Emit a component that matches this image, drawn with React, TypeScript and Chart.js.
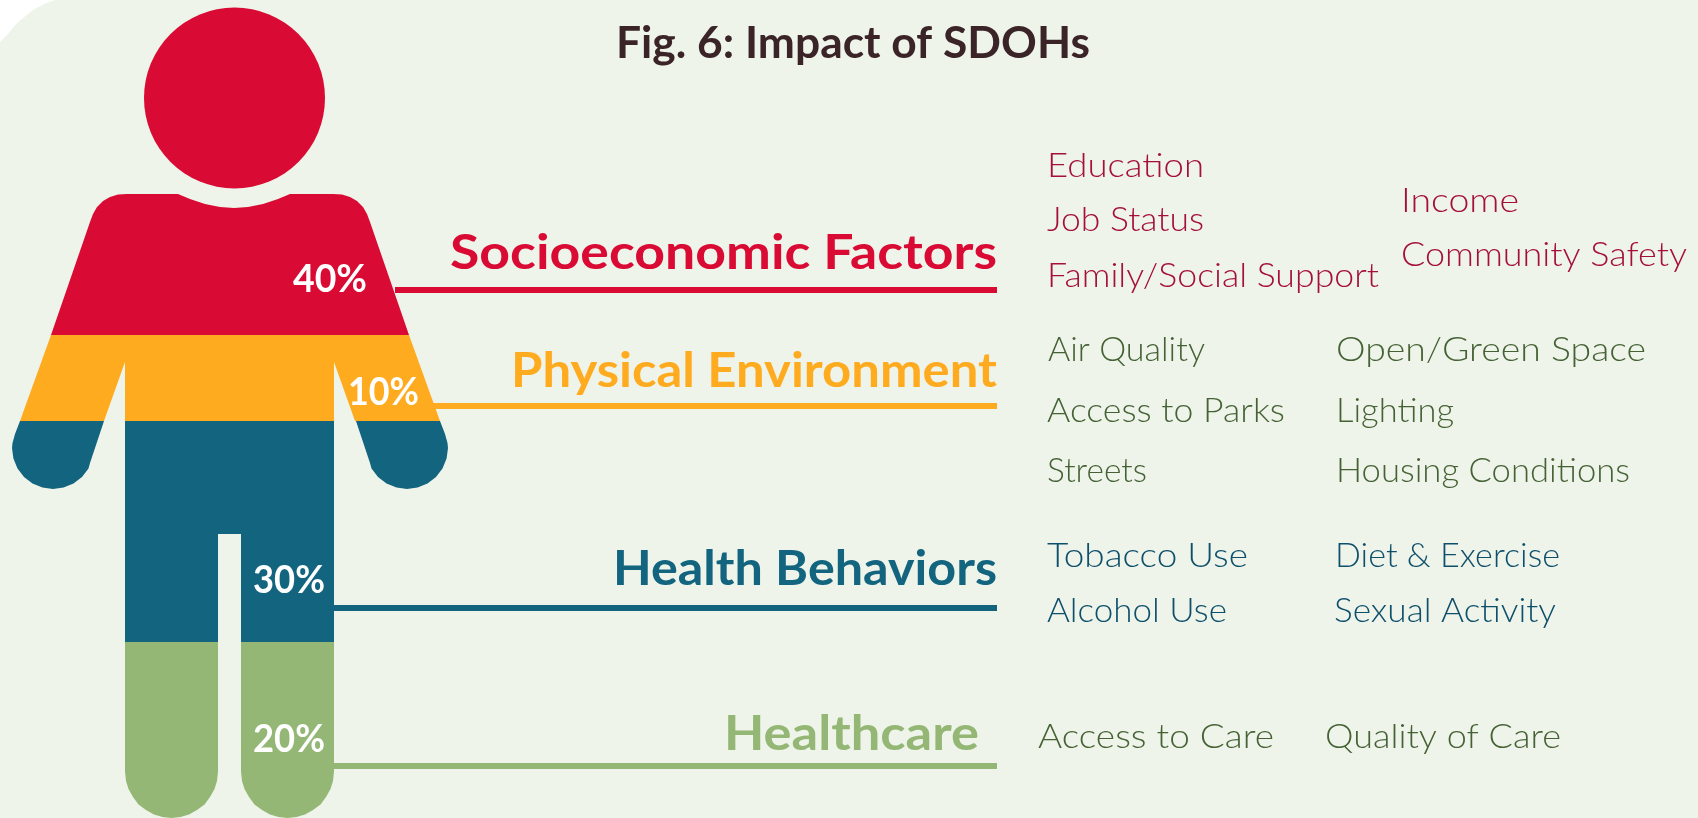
import React, { useEffect, useRef } from "react";
import { Chart, registerables } from "chart.js";

Chart.register(...registerables);

const FONT = "Lato, 'Open Sans', sans-serif";
const PAPER = "#eef4ea";
const RED = "#d90a33";
const ORANGE = "#ffab20";
const BLUE = "#13647f";
const GREEN = "#94b775";

const title = "Fig. 6: Impact of SDOHs";
const categories = ["Socioeconomic Factors", "Physical Environment", "Health Behaviors", "Healthcare"];
const shares = [40, 10, 30, 20];

const socioItems = ["Education", "Job Status", "Family/Social Support", "Income", "Community Safety"];
const physicalItems = ["Air Quality", "Access to Parks", "Streets", "Open/Green Space", "Lighting", "Housing Conditions"];
const behaviorItems = ["Tobacco Use", "Alcohol Use", "Diet & Exercise", "Sexual Activity"];
const careItems = ["Access to Care", "Quality of Care"];

type P = { x: number; y: number };
const xy = (pairs: number[][]): P[] => pairs.map(([x, y]) => ({ x, y }));

// Outlines, in the chart's own data space
const paperOutline = xy([
  [0, 42], [7, 35], [17, 23], [33, 10], [44, 4], [55, 0], [1698, 0], [1698, 818], [0, 818],
]);
const headCentre = xy([[234.5, 98]]);
const torsoOutline = xy([
  [127, 194], [118, 194.5], [110, 197], [103, 201], [97, 207], [93, 214], [90, 222], [51, 335], [409, 335],
  [370, 222], [367, 214], [363, 207], [357, 201], [350, 197], [342, 194.5], [333, 194], [290, 194], [278, 199],
  [263, 204], [248, 207], [234, 208], [220, 207], [205, 204], [190, 199], [178, 194],
]);
const waistOutline = xy([
  [51, 335], [409, 335], [440, 421], [355, 421], [334, 362], [334, 421], [125, 421], [125, 362], [104, 421], [20, 421],
]);
const leftHand = xy([
  [20, 421], [15, 434], [12.5, 443], [12, 448], [13.4, 458.6], [17.5, 468.5], [24, 477], [32.5, 483.5], [42.4, 487.6],
  [53, 489], [63.6, 487.6], [73.5, 483.5], [82, 477], [88.5, 468.5], [90, 463], [104, 421],
]);
const rightHand = xy([
  [356, 421], [370, 463], [371.5, 468.5], [378, 477], [386.5, 483.5], [396.5, 487.6], [407, 489], [417.6, 487.6],
  [427.5, 483.5], [436, 477], [442.5, 468.5], [446.6, 458.6], [448, 448], [447.5, 443], [445, 434], [440, 421],
]);
const hipsOutline = xy([
  [125, 421], [334, 421], [334, 642], [241, 642], [241, 534], [218, 534], [218, 642], [125, 642],
]);
const leftLeg = xy([
  [125, 642], [218, 642], [218, 771.5], [217, 781], [214.5, 789], [210, 797], [204.5, 804.5], [197, 810], [189, 814.5],
  [180.5, 817], [171.5, 818], [162.5, 817], [154, 814.5], [146, 810], [138.5, 804.5], [133, 797], [128.5, 789], [126, 781], [125, 771.5],
]);
const rightLeg = xy([
  [241, 642], [334, 642], [334, 771.5], [333, 781], [330.5, 789], [326, 797], [320.5, 804.5], [313, 810], [305, 814.5],
  [296.5, 817], [287.5, 818], [278.5, 817], [270, 814.5], [262, 810], [254.5, 804.5], [249, 797], [244.5, 789], [242, 781], [241, 771.5],
]);

const leaderRed = xy([[395, 290], [997, 290]]);
const leaderOrange = xy([[433, 406], [997, 406]]);
const leaderBlue = xy([[334, 608], [997, 608]]);
const leaderGreen = xy([[334, 766], [997, 766]]);

const shapes: { pts: P[]; color: string }[] = [
  { pts: paperOutline, color: PAPER },
  { pts: torsoOutline, color: RED },
  { pts: waistOutline, color: ORANGE },
  { pts: leftHand, color: BLUE },
  { pts: rightHand, color: BLUE },
  { pts: hipsOutline, color: BLUE },
  { pts: leftLeg, color: GREEN },
  { pts: rightLeg, color: GREEN },
];
const leaders: { pts: P[]; color: string }[] = [
  { pts: leaderRed, color: RED },
  { pts: leaderOrange, color: ORANGE },
  { pts: leaderBlue, color: BLUE },
  { pts: leaderGreen, color: GREEN },
];

// Text layout: [left, right, baseline] in the chart's data space
const titleBox = [616, 1090, 58];
const categoryBoxes = [[450, 997, 269], [511, 997, 387], [613, 997, 585], [724, 979, 750]];
const shareBoxes = [[293, 367, 292], [348, 419, 405], [253, 325, 593], [253, 325, 752]];
const socioBoxes = [[1047, 1204, 177], [1047, 1204, 231], [1047, 1379, 287], [1401, 1519, 212], [1401, 1687, 266]];
const physicalBoxes = [[1048, 1205, 361], [1047, 1285, 422], [1047, 1147, 482], [1336, 1646, 361], [1336, 1454, 422], [1336, 1630, 482]];
const behaviorBoxes = [[1047, 1248, 567], [1047, 1227, 622], [1335, 1560, 567], [1334, 1556, 622]];
const careBoxes = [[1038, 1274, 748], [1325, 1561, 748]];

const catColors = [RED, ORANGE, BLUE, GREEN];

const silhouette = {
  id: "silhouette",
  beforeDatasetsDraw(chart: any) {
    const ctx = chart.ctx;
    shapes.forEach((s, i) => {
      const pts = chart.getDatasetMeta(i).data;
      ctx.save();
      ctx.fillStyle = s.color;
      ctx.beginPath();
      pts.forEach((p: any, k: number) => (k ? ctx.lineTo(p.x, p.y) : ctx.moveTo(p.x, p.y)));
      ctx.closePath();
      ctx.fill();
      ctx.restore();
    });
  },
};

const labels = {
  id: "labels",
  afterDatasetsDraw(chart: any) {
    const ctx = chart.ctx;
    const sx = chart.scales.x;
    const sy = chart.scales.y;
    const put = (text: string, box: number[], font: string, color: string) => {
      const [a, b, base] = box;
      const x0 = sx.getPixelForValue(a);
      const x1 = sx.getPixelForValue(b);
      ctx.save();
      ctx.font = font;
      ctx.fillStyle = color;
      ctx.textAlign = "left";
      ctx.textBaseline = "alphabetic";
      const w = ctx.measureText(text).width;
      ctx.translate(x0, sy.getPixelForValue(base));
      ctx.scale((x1 - x0) / w, 1);
      ctx.fillText(text, 0, 0);
      ctx.restore();
    };
    const bold = (n: number) => `700 ${n}px ${FONT}`;
    const light = `300 34px ${FONT}`;
    put(title, titleBox, bold(44), "#3a2428");
    categories.forEach((c, i) => put(c, categoryBoxes[i], bold(48), catColors[i]));
    shares.forEach((v, i) => put(`${v}%`, shareBoxes[i], bold(39), "#ffffff"));
    socioItems.forEach((t, i) => put(t, socioBoxes[i], light, "#a50f3a"));
    physicalItems.forEach((t, i) => put(t, physicalBoxes[i], light, "#466235"));
    behaviorItems.forEach((t, i) => put(t, behaviorBoxes[i], light, "#0e4f6b"));
    careItems.forEach((t, i) => put(t, careBoxes[i], light, "#466235"));
  },
};

export default function App() {
  const ref = useRef<HTMLCanvasElement>(null);
  useEffect(() => {
    const chart = new Chart(ref.current!, {
      type: "scatter",
      data: {
        datasets: [
          ...shapes.map((s) => ({
            label: "outline",
            data: s.pts,
            showLine: false,
            pointRadius: 0,
            backgroundColor: s.color,
            clip: false,
          })),
          {
            label: "head",
            data: headCentre,
            showLine: false,
            pointStyle: "circle",
            pointRadius: 90.5,
            pointBorderWidth: 0,
            pointBackgroundColor: RED,
            clip: false,
          },
          ...leaders.map((l) => ({
            label: "leader",
            data: l.pts,
            showLine: true,
            pointRadius: 0,
            borderColor: l.color,
            borderWidth: 6,
            borderCapStyle: "butt",
          })),
        ],
      } as any,
      options: {
        animation: false,
        responsive: false,
        events: [],
        layout: { padding: 0, autoPadding: false },
        plugins: { legend: { display: false }, tooltip: { enabled: false }, title: { display: false } },
        scales: {
          x: { type: "linear", min: 0, max: 1698, display: false },
          y: { type: "linear", min: 0, max: 818, reverse: true, display: false },
        },
      },
      plugins: [silhouette, labels],
    });
    return () => chart.destroy();
  }, []);
  return (
    <div style={{ position: "fixed", left: 0, top: 0, width: 1698, height: 818, background: "#fff" }}>
      <canvas ref={ref} width={1698} height={818} style={{ display: "block", width: 1698, height: 818 }} />
    </div>
  );
}
